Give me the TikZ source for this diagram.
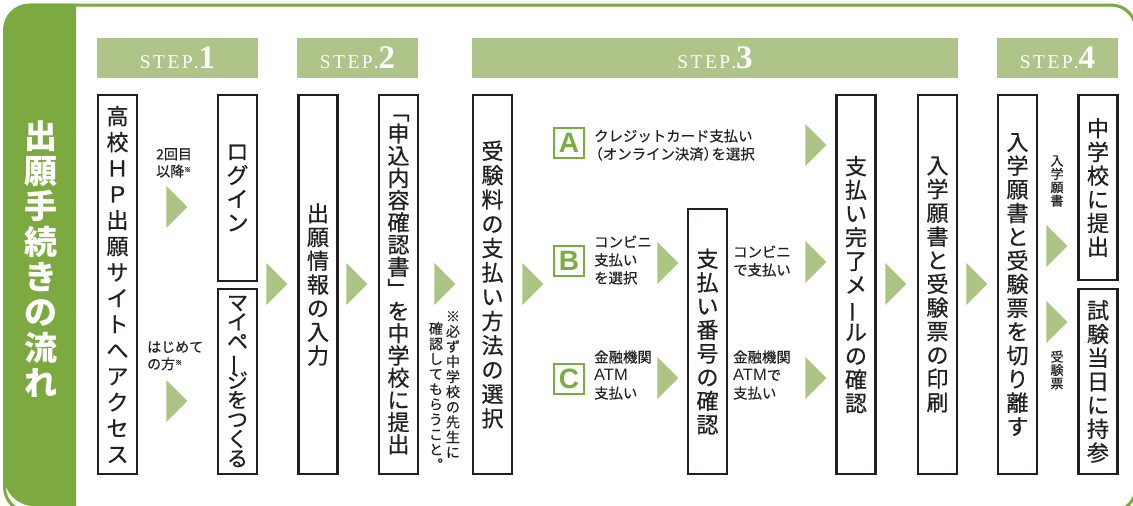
\documentclass[tikz,border=0pt]{standalone}
\usepackage{fontspec}
\usepackage{graphicx}
\setmainfont{Noto Sans CJK JP}
\newfontfamily\jpm{Noto Sans CJK JP}[FakeBold=0.6]
\newfontfamily\jpl{Noto Sans CJK JP}[FakeBold=0.35]
\newfontfamily\serifstep{Liberation Serif}
\newfontfamily\abcfont{Liberation Sans}
\usetikzlibrary{shapes.geometric}
\definecolor{band}{RGB}{124,169,64}
\definecolor{hdr}{RGB}{174,196,136}
\definecolor{arr}{RGB}{172,196,132}
\definecolor{abc}{RGB}{120,174,62}
\definecolor{ink}{RGB}{35,31,32}
\newcommand\vbar{\rotatebox[origin=c]{90}{ー}}
\def\vt#1{\vbox{\lineskiplimit=-100pt\relax\vtA#1\relax}}
\def\vtA#1{\ifx#1\relax\else\hbox to 1.1em{\hss#1\hss}\expandafter\vtA\fi}
\newcommand\kome{\raisebox{0.55ex}{\fontsize{7}{7}\selectfont ※}}
\newcommand\atm{{\abcfont\fontsize{16.5}{18}\selectfont ATM}}
\newcommand\stepnum[1]{{\serifstep\fontsize{19.5}{19.5}\selectfont S\kern2.5pt T\kern2.5pt E\kern2.5pt P\kern1pt.}{\serifstep\bfseries\fontsize{33}{33}\selectfont #1}}
\tikzset{
  stepbox/.style={fill=hdr, minimum height=40, inner sep=0, text=white},
  vbox/.style={draw=ink, line width=2.4, fill=white, minimum width=39, inner sep=0,
    font=\jpm\fontsize{22}{23.7}\selectfont, text=ink},
  tri/.style={isosceles triangle, isosceles triangle stretches, fill=arr, draw=none,
    minimum width=42, minimum height=21, inner sep=0, shape border rotate=0, anchor=apex},
  lbl/.style={font=\jpl\fontsize{14.4}{18}\selectfont, align=left, inner sep=0, text=ink, anchor=west},
  small/.style={font=\jpl\fontsize{14}{17}\selectfont, align=left, inner sep=0, text=ink, anchor=north west},
  note/.style={inner sep=0, text=ink, font=\jpl\fontsize{14}{15.1}\selectfont},
  abcbox/.style={draw=abc, line width=1.3, fill=white, minimum size=30, inner sep=0,
    font=\abcfont\bfseries\fontsize{28}{28}\selectfont, text=abc},
  frame/.style={draw=band, line width=3}
}
\begin{document}
\begin{tikzpicture}[x=1pt,y=-1pt]
\useasboundingbox (0,0) rectangle (1133,506);
\begin{scope}
  \clip (0,0) rectangle (1133,506);
  \draw[frame, rounded corners=25] (4.5,5) rectangle (1136,512);
  \begin{scope}
    \clip (0,0) rectangle (76,506);
    \fill[band, rounded corners=30] (4,3.5) rectangle (140,506);
  \end{scope}
\end{scope}
% title
\node[text=white, inner sep=0, font=\bfseries\fontsize{33}{35.3}\selectfont] (title) at (41,259) {\vt{出願手続きの流れ}};
% step headers
\node[stepbox, minimum width=161] (s1) at (177.5,58) {\stepnum{1}};
\node[stepbox, minimum width=121] (s2) at (357.5,58) {\stepnum{2}};
\node[stepbox, minimum width=486] (s3) at (715,58) {\stepnum{3}};
\node[stepbox, minimum width=121] (s4) at (1057.5,58) {\stepnum{4}};
% boxes
\node[vbox, minimum height=379, font=\jpm\fontsize{22}{26}\selectfont] (b1) at (117.5,284.5) {\vt{高校ＨＰ出願サイトへアクセス}};
\node[vbox, minimum height=186] (login) at (237.5,188) {\vt{ログイン}};
\node[vbox, minimum height=185, font=\jpm\fontsize{21}{19.5}\selectfont] (mypage) at (237.5,381.5) {\vt{マイペ\vbar ジをつくる}};
\node[vbox, minimum height=379] (b3) at (318,284.5) {\vt{出願情報の入力}};
\node[vbox, minimum height=379, font=\jpm\fontsize{22}{22.2}\selectfont] (b4) at (398.5,284.5) {\vt{﹁申込内容確認書﹂を中学校に提出}};
\node[vbox, minimum height=379, font=\jpm\fontsize{22}{24.3}\selectfont] (b5) at (492.5,284.5) {\vt{受験料の支払い方法の選択}};
\node[vbox, minimum height=265] (b6) at (707.5,341.5) {\vt{支払い番号の確認}};
\node[vbox, minimum height=379] (b7) at (856,284.5) {\vt{支払い完了メ\vbar ルの確認}};
\node[vbox, minimum height=379] (b8) at (937.5,284.5) {\vt{入学願書と受験票の印刷}};
\node[vbox, minimum height=379] (b9) at (1017.5,284.5) {\vt{入学願書と受験票を切り離す}};
\node[vbox, minimum height=185] (b10) at (1098,187.5) {\vt{中学校に提出}};
\node[vbox, minimum height=185] (b11) at (1098,381.5) {\vt{試験当日に持参}};
% triangles
\node[tri] (t1) at (188,207) {};
\node[tri] (t2) at (188,401) {};
\node[tri] (t3) at (288,284) {};
\node[tri] (t4) at (368,284) {};
\node[tri] (t5) at (456,284) {};
\node[tri] (t6) at (544,284) {};
\node[tri] (tA) at (827,145) {};
\node[tri] (tB1) at (679,263) {};
\node[tri] (tB2) at (827,262) {};
\node[tri] (tC1) at (679,378) {};
\node[tri] (tC2) at (827,378) {};
\node[tri] (t7) at (907,284) {};
\node[tri] (t8) at (988,284) {};
\node[tri] (t9) at (1068,246) {};
\node[tri] (t10) at (1068,322) {};
% labels
\node[small] (l1) at (156,148) {2回目\\以降\kome};
\node[small] (l2) at (147,341) {はじめて\\の方\kome};
\node[note, anchor=north] (n1) at (453,311) {\vt{※必ず中学校の先生に}};
\node[note, anchor=north] (n2) at (436,322) {\vt{確認してもらうこと︒}};
\node[abcbox] (A) at (569,143) {A};
\node[abcbox] (B) at (569,261) {B};
\node[abcbox] (C) at (569,379) {C};
\node[lbl] (lA) at (594,145) {クレジットカード支払い\\\kern-0.4em（オンライン決済）\kern-0.45em を選択};
\node[lbl] (lB) at (594,260) {コンビニ\\支払い\\を選択};
\node[lbl] (lC) at (594,375) {金融機関\\\atm\\支払い};
\node[lbl] (lB2) at (733,261) {コンビニ\\で支払い};
\node[lbl] (lC2) at (733,375) {金融機関\\\atm で\\支払い};
\node[note, font=\jpl\fontsize{13}{13.3}\selectfont] (l9) at (1057,181) {\vt{入学願書}};
\node[note, font=\jpl\fontsize{13}{13.3}\selectfont] (l10) at (1057,370) {\vt{受験票}};
\end{tikzpicture}
\end{document}
